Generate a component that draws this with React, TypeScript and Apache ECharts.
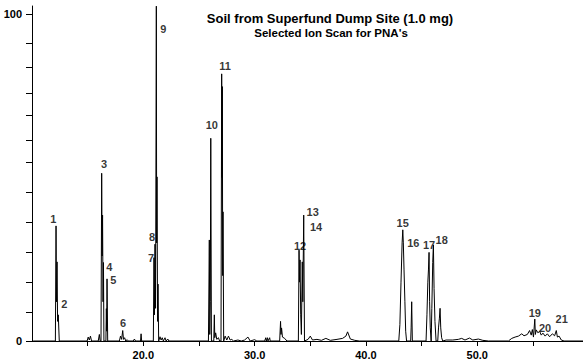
import React, { useEffect, useRef } from "react";
import * as echarts from "echarts";

const titleText = "Soil from Superfund Dump Site (1.0 mg)";
const subtitleText = "Selected Ion Scan for PNA's";

// Chromatogram trace: [retention time (min), relative abundance (%)]
const trace: [number, number][] = [
  [10.1, 0], [12.1, 0], [12.16, 35.2], [12.2, 12], [12.25, 24.2], [12.3, 6], [12.36, 8], [12.45, 0],
  [14.95, 0], [15.05, 1.2], [15.15, 0.3], [15.25, 1.5], [15.35, 0], [15.95, 0], [16.05, 2], [16.12, 0],
  [16.2, 0], [16.26, 51.3], [16.3, 26], [16.34, 38.5], [16.38, 12], [16.42, 24], [16.46, 0],
  [16.64, 0], [16.68, 9.9], [16.71, 3], [16.74, 19], [16.8, 0],
  [17.85, 0], [17.95, 1.5], [18.05, 0.5], [18.15, 3.2], [18.22, 0.5], [18.32, 1], [18.42, 0], [18.55, 0.4], [18.65, 0],
  [19.1, 0], [19.2, 0.6], [19.3, 0], [19.75, 0], [19.8, 2.2], [19.85, 0],
  [20.9, 0], [20.96, 25.5], [21.0, 8], [21.05, 29.6], [21.1, 10], [21.17, 102.4], [21.2, 30], [21.23, 50.2], [21.28, 6], [21.32, 17.4], [21.38, 0],
  [21.5, 1.3], [21.6, 0.3], [21.7, 1], [21.8, 0], [21.95, 1], [22.05, 0], [22.2, 0.6], [22.3, 0],
  [25.85, 0], [25.93, 30.9], [25.97, 2], [26.02, 12], [26.06, 62], [26.12, 0],
  [26.33, 0], [26.38, 8], [26.42, 1], [26.5, 2.5], [26.6, 0.5], [26.75, 1], [26.85, 0],
  [26.98, 0], [27.04, 81.7], [27.07, 50], [27.1, 77.8], [27.13, 20], [27.16, 39.5], [27.22, 0],
  [27.35, 1.5], [27.5, 0.3], [27.65, 1.5], [27.8, 0.3], [27.95, 0.5], [28.1, 0], [28.5, 0.3], [28.8, 0],
  [29.1, 0.3], [29.4, 1.2], [29.6, 0], [30.0, 0.4], [30.2, 0],
  [30.9, 0], [31.0, 1], [31.05, 0], [31.15, 1], [31.2, 0], [31.35, 1], [31.4, 0],
  [32.25, 0], [32.33, 6], [32.37, 2], [32.42, 4], [32.5, 1.2], [32.7, 0.8], [32.9, 0],
  [33.93, 0], [33.99, 27.8], [34.03, 18], [34.08, 24.8], [34.14, 8], [34.2, 2], [34.28, 24.2], [34.33, 12], [34.41, 38.5], [34.48, 0],
  [34.8, 0.5], [35.0, 1.5], [35.2, 0.3], [35.6, 0.5], [36.0, 0.2], [36.4, 0.8], [36.8, 0.2], [37.4, 0.5],
  [37.9, 0.8], [38.2, 1.5], [38.35, 2.8], [38.6, 0.6], [39.0, 0.2], [39.4, 0],
  [42.95, 0], [43.05, 5], [43.15, 18], [43.25, 30], [43.31, 34], [43.36, 30], [43.42, 22], [43.5, 12], [43.57, 3], [43.65, 0],
  [44.02, 0], [44.06, 4], [44.11, 12], [44.17, 0],
  [45.4, 0], [45.48, 8], [45.56, 18], [45.62, 22], [45.67, 27.1], [45.72, 12], [45.78, 4], [45.86, 0],
  [45.92, 10], [46.0, 24], [46.06, 29.4], [46.12, 16], [46.2, 6], [46.3, 0],
  [46.45, 0], [46.52, 4], [46.6, 7], [46.66, 10], [46.72, 4], [46.8, 1], [46.9, 0],
  [47.2, 0.3], [47.8, 0.3], [48.3, 0.5], [48.6, 0.8], [48.9, 0.3], [49.3, 0.9], [49.6, 0.3], [50.1, 0.6], [50.5, 0.2], [51.0, 0],
  [52.8, 0], [53.1, 0.8], [53.4, 1.2], [53.7, 1.5], [54.0, 2.2], [54.2, 1.6], [54.5, 2], [54.7, 3.2], [54.85, 1.8],
  [54.95, 3.5], [55.05, 1.2], [55.17, 6.7], [55.22, 2], [55.3, 3.4], [55.45, 2.5], [55.6, 3], [55.75, 1.8], [55.9, 2.4],
  [56.1, 1.5], [56.3, 2.2], [56.5, 1.3], [56.75, 2.2], [56.95, 1.6], [57.1, 3.2], [57.2, 1.2], [57.35, 1.5], [57.55, 0.3],
  [57.8, 0], [59.5, 0],
];

// Peak number labels
const peakIds = ["1", "2", "3", "4", "5", "6", "7", "8", "9", "10", "11", "12", "13", "14", "15", "16", "17", "18", "19", "20", "21"];
const peakLabelTime = [11.91, 12.9, 16.47, 16.95, 17.3, 18.18, 20.69, 20.78, 21.8, 26.15, 27.34, 34.08, 35.22, 35.52, 43.3, 44.26, 45.67, 46.81, 55.17, 56.09, 57.59];
const peakLabelAbundance = [37.3, 11.4, 54.1, 22.7, 18.8, 5.5, 25.5, 31.9, 95.3, 66.1, 84.2, 29.1, 39.5, 34.9, 36.0, 29.9, 29.4, 30.9, 8.5, 4.1, 6.7];

// Axis ticks and labels
const xTickValues = [15, 20, 25, 30, 35, 40, 45, 50, 55];
const xLabelValues = [20, 30, 40, 50];
const yTickValues = [0, 8.8, 18.0, 27.2, 36.3, 45.4, 54.6, 61.3, 69.0, 75.7, 83.7, 91.0, 100];
const yLabelValues = [0, 100];

const FONT = "'Liberation Sans', Arial, Helvetica, sans-serif";

export default function App() {
  const ref = useRef<HTMLDivElement>(null);

  useEffect(() => {
    if (!ref.current) return;
    const chart = echarts.init(ref.current, null, { renderer: "svg" });
    const labelData = peakIds.map((id, i) => ({
      name: id,
      value: [peakLabelTime[i], peakLabelAbundance[i]],
    }));
    chart.setOption({
      animation: false,
      backgroundColor: "#ffffff",
      grid: { left: 32, right: 0, top: 6, bottom: 23, containLabel: false },
      xAxis: {
        type: "value",
        min: 10,
        max: 59.5,
        interval: 5,
        axisLine: { show: true, onZero: false, lineStyle: { color: "#000", width: 1 } },
        axisTick: {
          show: true,
          length: 5,
          customValues: xTickValues,
          lineStyle: { color: "#000", width: 1 },
        },
        axisLabel: {
          show: true,
          customValues: xLabelValues,
          formatter: (v: number) => v.toFixed(1),
          color: "#000",
          fontFamily: FONT,
          fontWeight: "bold",
          fontSize: 11,
          margin: 8,
        },
        splitLine: { show: false },
      },
      yAxis: {
        type: "value",
        min: 0,
        max: 102.45,
        axisLine: { show: true, lineStyle: { color: "#000", width: 1 } },
        axisTick: {
          show: true,
          length: 6,
          customValues: yTickValues,
          lineStyle: { color: "#000", width: 1 },
        },
        axisLabel: {
          show: true,
          customValues: yLabelValues,
          color: "#000",
          fontFamily: FONT,
          fontWeight: "bold",
          fontSize: 11,
          margin: 10,
        },
        splitLine: { show: false },
      },
      graphic: [
        {
          type: "text",
          x: 330,
          y: 18,
          style: {
            text: titleText,
            font: `bold 13px ${FONT}`,
            fill: "#000",
            textAlign: "center",
            textVerticalAlign: "middle",
          },
        },
        {
          type: "text",
          x: 331,
          y: 33,
          style: {
            text: subtitleText,
            font: `bold 11.5px ${FONT}`,
            fill: "#000",
            textAlign: "center",
            textVerticalAlign: "middle",
          },
        },
      ],
      series: [
        {
          type: "line",
          data: trace,
          showSymbol: false,
          symbol: "none",
          clip: false,
          lineStyle: { color: "#000", width: 1 },
          z: 2,
        },
        {
          type: "scatter",
          data: labelData,
          symbolSize: 0,
          silent: true,
          itemStyle: { color: "#000" },
          label: {
            show: true,
            position: "inside",
            formatter: "{b}",
            color: "#000",
            textBorderWidth: 0,
            textBorderColor: "transparent",
            fontFamily: FONT,
            fontWeight: "bold",
            fontSize: 11,
          },
          z: 3,
        },
      ],
    });
    return () => chart.dispose();
  }, []);

  return (
    <div
      ref={ref}
      style={{ position: "fixed", left: 0, top: 0, width: 583, height: 364, background: "#fff" }}
    />
  );
}
